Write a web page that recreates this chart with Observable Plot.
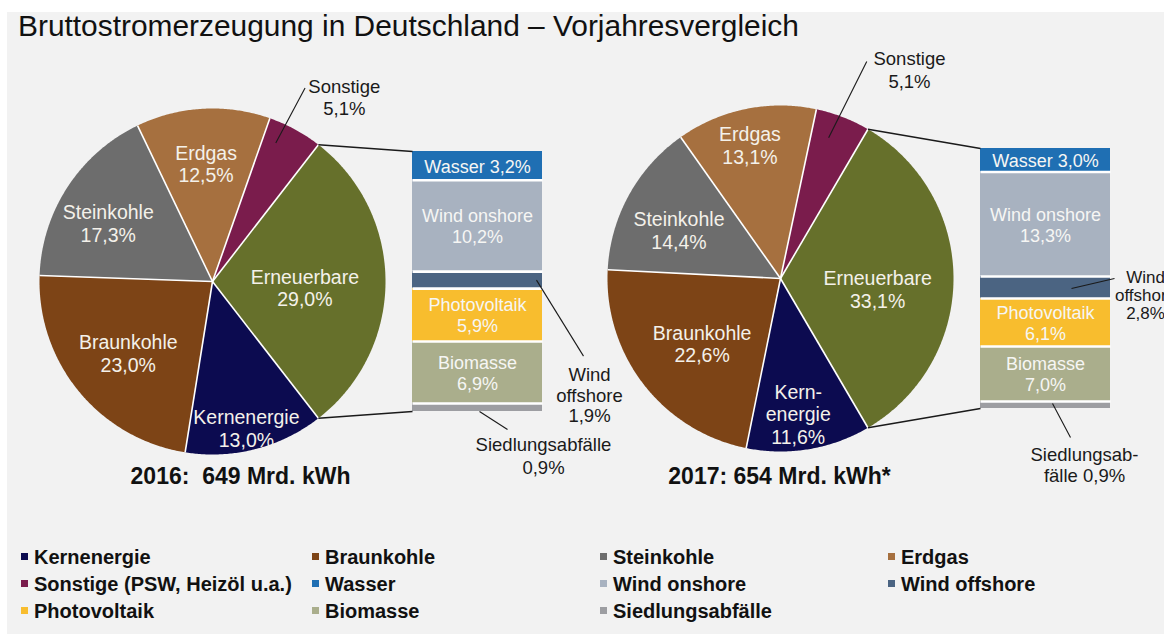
<!DOCTYPE html>
<html><head><meta charset="utf-8">
<script src="https://cdn.jsdelivr.net/npm/d3@7"></script>
<script src="https://cdn.jsdelivr.net/npm/@observablehq/plot@0.6"></script>
<style>
html,body{margin:0;padding:0;background:#fff;}
body{width:1164px;height:634px;position:relative;overflow:hidden;font-family:"Liberation Sans",Arial,sans-serif;}
#panel{position:absolute;left:7px;top:12px;width:1157px;height:622px;background:#f2f2f2;}
#title{position:absolute;left:18px;top:10.5px;font-size:29.9px;line-height:30px;color:#111;white-space:nowrap;}
#chart{position:absolute;left:0;top:42px;}
.item{position:absolute;font-weight:bold;font-size:20px;line-height:20px;color:#111;white-space:nowrap;}
.sw{position:absolute;width:7px;height:7px;}
</style></head><body>
<div id="panel"></div>
<div id="title">Bruttostromerzeugung in Deutschland – Vorjahresvergleich</div>
<div id="chart"></div>
<div id="legend"></div>
<script>
// ---------- data ----------
const categories = ["Kernenergie","Braunkohle","Steinkohle","Erdgas","Sonstige","Erneuerbare"];
const share2016 = [13.0, 23.0, 17.3, 12.5, 5.1, 29.0];
const share2017 = [11.6, 22.6, 14.4, 13.1, 5.1, 33.1];
const renewables = ["Wasser","Wind onshore","Wind offshore","Photovoltaik","Biomasse","Siedlungsabfälle"];
const renew2016 = [3.2, 10.2, 1.9, 5.9, 6.9, 0.9];
const renew2017 = [3.0, 13.3, 2.8, 6.1, 7.0, 0.9];
const years = ["2016","2017"];
const totalLabels = ["2016:\u00a0 649 Mrd. kWh", "2017: 654 Mrd. kWh*"];
const legendKeys = ["Kernenergie","Braunkohle","Steinkohle","Erdgas","Sonstige","Wasser","Wind onshore","Wind offshore","Photovoltaik","Biomasse","Siedlungsabfälle"];
const legendLabels = ["Kernenergie","Braunkohle","Steinkohle","Erdgas","Sonstige (PSW, Heizöl u.a.)","Wasser","Wind onshore","Wind offshore","Photovoltaik","Biomasse","Siedlungsabfälle"];
const categoryColors = ["#0c0b50","#7d4416","#6d6d6d","#a6703f","#7a1c4c","#66702b"];
const renewableColors = ["#1f6fb3","#a8b2c0","#4b6482","#f8bd2e","#aaae8c","#9d9ea2"];
const pieLabelNames = [{}, {Kernenergie: "Kern-\nenergie"}];
const siedlNames = ["Siedlungsabfälle\n", "Siedlungsab-\nfälle "];

// ---------- layout ----------
const W = 1164, H = 460, TOP = 42;
const R = 173, BAR_OFFSET = 200, BAR_W = 130, BAR_HALF = 130;
const deg = Math.PI / 180;
const layouts = [
  { cx: 212, cy: 281, totalDx: 28, totalDy: 195,
    label: {Kernenergie:[0.87,1.3], Braunkohle:[0.64,-1], Steinkohle:[0.69,-4], Erdgas:[0.68,0], Erneuerbare:[0.535,4], Sonstige:[1.31,7]},
    leader: {inner:[0.88,-4], outer:[1.24,-3]},
    offshore: {from:[124,0], to:[171,76], text:[177,115], anchor:"middle", lh:1.1, fs:18.5},
    siedl: {from:[67,0], to:[95,18], text:[131,44], lh:1.22} },
  { cx: 780, cy: 278, totalDx: -1, totalDy: 198,
    label: {Kernenergie:[0.79,2], Braunkohle:[0.59,-2], Steinkohle:[0.65,-3.4], Erdgas:[0.79,-1.3], Erneuerbare:[0.565,6.4], Sonstige:[1.42,10.5]},
    leader: {inner:[0.86,-2.3], outer:[1.35,0.5]},
    offshore: {from:[91,1], to:[134,-9], text:[165,8], anchor:"middle", lh:1.06, fs:17},
    siedl: {from:[72,-5], to:[90,29], text:[104,56], lh:1.18} }
];
const pct = v => v.toFixed(1).replace(".", ",") + "%";

// ---------- geometry from data ----------
const polys = [], seps = [], pieLabels = [], outLabels = [], leaders = [], connectors = [];
const bars = [], barSeps = [], barLabels = [], totals = [];
years.forEach((yr, i) => {
  const L = layouts[i];
  const vals = [share2016, share2017][i];
  const rv = [renew2016, renew2017][i];
  const total = d3.sum(vals);
  const e = categories.indexOf("Erneuerbare");
  const start = Math.PI / 2 - (d3.sum(vals.slice(0, e)) + vals[e] / 2) / total * 2 * Math.PI;
  const arcs = d3.pie().sort(null).startAngle(start).endAngle(start + 2 * Math.PI)(vals);
  const pt = (a, r) => [L.cx + r * Math.sin(a), L.cy - r * Math.cos(a)];
  arcs.forEach((a, j) => {
    const cat = categories[j], key = yr + cat;
    polys.push({key, cat, x: L.cx, y: L.cy});
    const n = Math.max(2, Math.ceil((a.endAngle - a.startAngle) / (0.5 * deg)));
    for (let k = 0; k <= n; k++) {
      const t = a.startAngle + (a.endAngle - a.startAngle) * k / n;
      const [x, y] = pt(t, R);
      polys.push({key, cat, x, y});
    }
    const [x2, y2] = pt(a.startAngle, R);
    seps.push({x1: L.cx, y1: L.cy, x2, y2});
    const mid = (a.startAngle + a.endAngle) / 2;
    const [f, da] = L.label[cat];
    const [lx, ly] = pt(mid + da * deg, f * R);
    const name = pieLabelNames[i][cat] ?? cat;
    if (cat === "Sonstige") {
      outLabels.push({x: lx, y: ly, text: name + "\n" + pct(vals[j]), anchor: "middle", lh: 1.2, fs: 18.5});
      const [ax, ay] = pt(mid + L.leader.inner[1] * deg, L.leader.inner[0] * R);
      const [bx, by] = pt(mid + L.leader.outer[1] * deg, L.leader.outer[0] * R);
      leaders.push({x1: ax, y1: ay, x2: bx, y2: by});
    } else {
      pieLabels.push({x: lx, y: ly, text: name + "\n" + pct(vals[j])});
    }
  });
  // stacked bar of renewables, normalised to bar height
  const bx0 = L.cx + BAR_OFFSET, bx1 = bx0 + BAR_W, by0 = L.cy - BAR_HALF, bh = 2 * BAR_HALF;
  const rt = d3.sum(rv);
  const cum = [0, ...d3.cumsum(rv)];
  const yAt = c => by0 + c / rt * bh;
  rv.forEach((v, k) => {
    const name = renewables[k];
    const y1 = yAt(cum[k]), y2 = yAt(cum[k + 1]), ym = (y1 + y2) / 2;
    bars.push({name, x1: bx0, x2: bx1, y1, y2});
    if (k > 0) barSeps.push({x1: bx0, x2: bx1, y1, y2: y1});
    const xm = (bx0 + bx1) / 2;
    if (name === "Wasser") barLabels.push({x: xm, y: ym, text: name + " " + pct(v)});
    else if (name === "Wind offshore") {
      const o = L.offshore;
      leaders.push({x1: bx0 + o.from[0], y1: ym + o.from[1], x2: bx0 + o.to[0], y2: ym + o.to[1]});
      outLabels.push({x: bx0 + o.text[0], y: ym + o.text[1], text: "Wind\noffshore\n" + pct(v), anchor: o.anchor, lh: o.lh, fs: o.fs});
    } else if (name === "Siedlungsabfälle") {
      const s = L.siedl, yb = by0 + bh;
      leaders.push({x1: bx0 + s.from[0], y1: yb + s.from[1], x2: bx0 + s.to[0], y2: yb + s.to[1]});
      outLabels.push({x: bx0 + s.text[0], y: yb + s.text[1], text: siedlNames[i] + pct(v), anchor: "middle", lh: s.lh, fs: 18.5});
    } else barLabels.push({x: xm, y: ym, text: name + "\n" + pct(v)});
  });
  const eArc = arcs[e];
  const [tx, ty] = pt(eArc.startAngle, R), [ux, uy] = pt(eArc.endAngle, R);
  connectors.push({x1: tx, y1: ty, x2: bx0, y2: by0}, {x1: ux, y1: uy, x2: bx0, y2: by0 + bh});
  totals.push({x: L.cx + L.totalDx, y: L.cy + L.totalDy, text: totalLabels[i]});
});

const linkOpts = {x1: "x1", y1: "y1", x2: "x2", y2: "y2"};
const chart = Plot.plot({
  width: W, height: H, margin: 0,
  x: {domain: [0, W], axis: null},
  y: {domain: [TOP + H, TOP], axis: null},
  color: {domain: [...categories, ...renewables], range: [...categoryColors, ...renewableColors]},
  style: {background: "transparent", fontFamily: "'Liberation Sans', Arial, sans-serif", overflow: "visible"},
  marks: [
    Plot.line(polys, {x: "x", y: "y", z: "key", fill: "cat", stroke: "none", curve: "linear"}),
    Plot.link(seps, {...linkOpts, stroke: "white", strokeWidth: 1.6}),
    Plot.rect(bars, {x1: "x1", x2: "x2", y1: "y1", y2: "y2", fill: "name"}),
    Plot.link(barSeps, {...linkOpts, stroke: "white", strokeWidth: 2.6}),
    Plot.link(connectors, {...linkOpts, stroke: "#1a1a1a", strokeWidth: 1.6}),
    Plot.link(leaders, {...linkOpts, stroke: "#1a1a1a", strokeWidth: 1.1}),
    Plot.text(pieLabels, {x: "x", y: "y", text: "text", fill: "#f4f1ea", fontSize: 19.5, lineHeight: 1.15}),
    Plot.text(barLabels, {x: "x", y: "y", text: "text", fill: "#f6f6f4", fontSize: 18, lineHeight: 1.17}),
    ...outLabels.map(d => Plot.text([d], {x: "x", y: "y", text: "text", fill: "#1a1a1a", fontSize: d.fs, textAnchor: d.anchor, lineHeight: d.lh})),
    Plot.text(totals, {x: "x", y: "y", text: "text", fill: "#111", fontSize: 23, fontWeight: "bold"})
  ]
});
document.getElementById("chart").appendChild(chart);

// ---------- legend ----------
const colorOf = new Map([...categories.map((c, k) => [c, categoryColors[k]]), ...renewables.map((c, k) => [c, renewableColors[k]])]);
const colX = [21, 312, 600, 888], rowBase = [564, 591, 618];
const legend = document.getElementById("legend");
legendKeys.forEach((k, idx) => {
  const col = idx % 4, row = Math.floor(idx / 4);
  const sw = document.createElement("div");
  sw.className = "sw";
  sw.style.left = colX[col] + "px";
  sw.style.top = (rowBase[row] - 11) + "px";
  sw.style.background = colorOf.get(k);
  legend.appendChild(sw);
  const t = document.createElement("div");
  t.className = "item";
  t.style.left = (colX[col] + 13) + "px";
  t.style.top = (rowBase[row] - 16.8) + "px";
  t.textContent = legendLabels[idx];
  legend.appendChild(t);
});
</script></body></html>
